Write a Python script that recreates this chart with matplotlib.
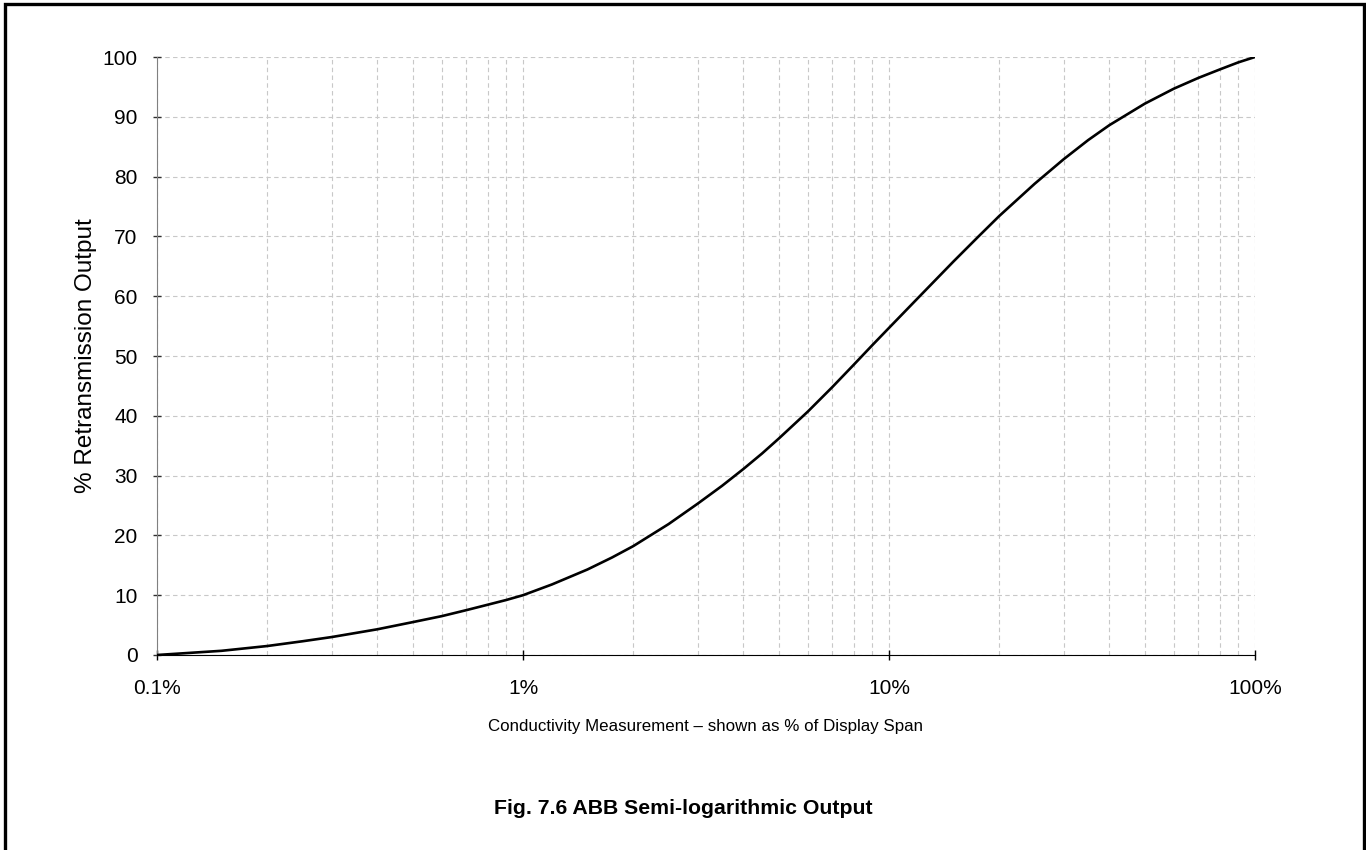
import matplotlib.pyplot as plt
import matplotlib.patches as patches
from matplotlib.ticker import FixedLocator, NullFormatter

plt.rcParams['font.family'] = ['Liberation Sans', 'DejaVu Sans']

# Conductivity measurement (% of display span) vs % retransmission output
conductivity = [0.1, 0.15, 0.2, 0.25, 0.3, 0.4, 0.5, 0.6, 0.7, 0.8, 0.9,
                1, 1.2, 1.5, 1.75, 2, 2.5, 3, 3.5, 4, 4.5, 5, 6, 7, 8, 9,
                10, 12, 15, 17.5, 20, 25, 30, 35, 40, 45, 50, 60, 70, 80, 90, 100]
output = [0, 0.7, 1.5, 2.3, 3.0, 4.3, 5.5, 6.5, 7.5, 8.4, 9.2,
          10.0, 11.8, 14.3, 16.3, 18.2, 21.9, 25.3, 28.3, 31.1, 33.7, 36.2, 40.7, 44.8, 48.5, 51.8,
          54.7, 59.7, 65.8, 69.9, 73.4, 78.8, 82.9, 86.1, 88.6, 90.5, 92.2, 94.7, 96.5, 97.9, 99.1, 100]

x_ticks = [0.1, 1, 10, 100]
x_labels = ['0.1%', '1%', '10%', '100%']
y_ticks = list(range(0, 101, 10))

fig = plt.figure(figsize=(13.66, 8.5), dpi=100)
ax = fig.add_axes([157 / 1366, 195 / 850, 1098 / 1366, 598 / 850])

ax.plot(conductivity, output, color='black', lw=1.9, solid_joinstyle='round',
        solid_capstyle='round', zorder=3)

ax.set_xscale('log')
ax.set_xlim(0.1, 100)
ax.set_ylim(0, 100)

ax.set_xticks(x_ticks)
ax.set_xticklabels(x_labels)
minor = [m * d for d in (0.1, 1, 10) for m in range(2, 10)]
ax.xaxis.set_minor_locator(FixedLocator(minor))
ax.xaxis.set_minor_formatter(NullFormatter())
ax.set_yticks(y_ticks)

grid_kw = dict(color='#c8c8c8', linestyle=(0, (4, 3)), linewidth=0.8)
ax.grid(True, which='major', axis='both', **grid_kw)
ax.grid(True, which='minor', axis='x', **grid_kw)
ax.set_axisbelow(True)

ax.spines['top'].set_visible(False)
ax.spines['right'].set_visible(False)
ax.spines['left'].set_color('#808080')
ax.spines['bottom'].set_color('black')

ax.tick_params(axis='y', direction='inout', length=6, width=1, color='#303030',
               labelsize=15, pad=11)
ax.tick_params(axis='x', which='major', direction='inout', length=7, width=1,
               color='black', labelsize=15, pad=14)
ax.tick_params(axis='x', which='minor', length=0)

ax.set_xlabel('Conductivity Measurement \u2013 shown as % of Display Span',
              fontsize=12.2, labelpad=15)
ax.set_ylabel('% Retransmission Output', fontsize=17.5, labelpad=4)

fig.text(0.5, 1 - 809 / 850, 'Fig. 7.6 ABB Semi-logarithmic Output',
         ha='center', va='center', fontsize=15.3, fontweight='bold')

# outer frame
frame = patches.Rectangle((5 / 1366, -0.02), 1359 / 1366, 1 - 4 / 850 + 0.02,
                          transform=fig.transFigure, fill=False,
                          edgecolor='black', linewidth=2.4)
fig.patches.append(frame)

fig.savefig('out.png', dpi=100)
